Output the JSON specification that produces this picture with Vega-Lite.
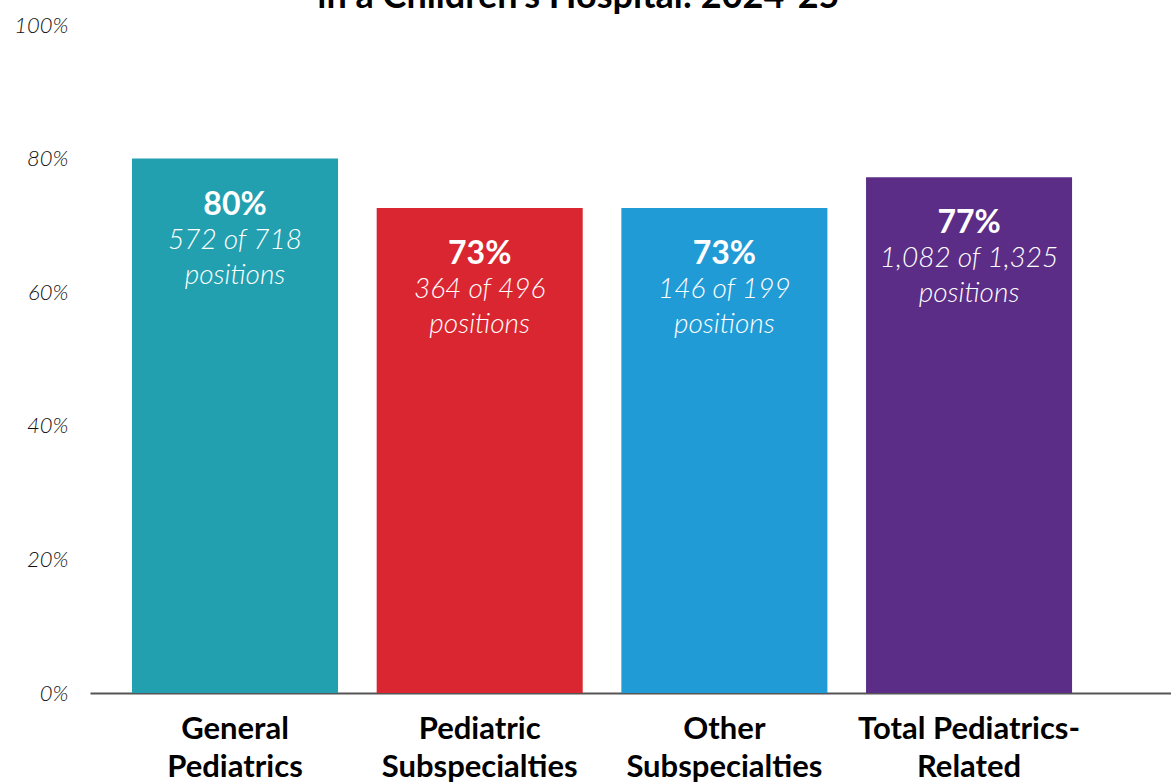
{
  "$schema": "https://vega.github.io/schema/vega-lite/v6.json",
  "autosize": {"type": "none"},
  "padding": {"left": 90, "top": 25, "right": 0, "bottom": 89},
  "width": 1081,
  "height": 668,
  "background": "white",
  "title": {
    "text": "in a Children's Hospital: 2024-25",
    "anchor": "middle",
    "frame": "bounds",
    "baseline": "bottom",
    "offset": -38,
    "dx": -14,
    "font": "Lato",
    "fontSize": 36,
    "fontWeight": "bold",
    "color": "#000000"
  },
  "config": {"view": {"stroke": null}, "font": "Lato"},
  "data": {
    "values": [
      {"category": "General|Pediatrics", "pct": 0.80, "pctLabel": "80%", "count": "572 of 718", "unit": "positions", "color": "#23A0B0"},
      {"category": "Pediatric|Subspecialties", "pct": 0.726, "pctLabel": "73%", "count": "364 of 496", "unit": "positions", "color": "#DA2630"},
      {"category": "Other|Subspecialties", "pct": 0.726, "pctLabel": "73%", "count": "146 of 199", "unit": "positions", "color": "#219BD6"},
      {"category": "Total Pediatrics-|Related", "pct": 0.772, "pctLabel": "77%", "count": "1,082 of 1,325", "unit": "positions", "color": "#5B2D86"}
    ]
  },
  "encoding": {
    "x": {
      "field": "category",
      "type": "nominal",
      "sort": null,
      "scale": {"paddingInner": 0.158, "paddingOuter": 0.288, "align": 0.298},
      "axis": {
        "title": null,
        "labelAngle": 0,
        "labelExpr": "split(datum.label, '|')",
        "labelFont": "Lato",
        "labelFontSize": 31,
        "labelFontWeight": "bold",
        "labelColor": "#000000",
        "labelLineHeight": 38,
        "labelPadding": 21,
        "labelLimit": 0,
        "labelOverlap": false,
        "ticks": false,
        "domainColor": "#555555",
        "domainWidth": 2,
        "labelBaseline": "top"
      }
    },
    "y": {
      "field": "pct",
      "type": "quantitative",
      "scale": {"domain": [0, 1], "nice": false},
      "axis": {
        "title": null,
        "values": [0, 0.2, 0.4, 0.6, 0.8, 1],
        "format": ".0%",
        "grid": false,
        "domain": false,
        "ticks": false,
        "labelPadding": 22,
        "labelFont": "Lato",
        "labelFontSize": 22,
        "labelFontStyle": "italic",
        "labelFontWeight": 300,
        "labelColor": "#111111"
      }
    }
  },
  "layer": [
    {
      "mark": {"type": "bar"},
      "encoding": {"color": {"field": "color", "type": "nominal", "scale": null}}
    },
    {
      "mark": {"type": "text", "dy": 46, "baseline": "middle", "font": "Lato", "fontSize": 32, "fontWeight": "bold", "color": "white"},
      "encoding": {"text": {"field": "pctLabel"}}
    },
    {
      "mark": {"type": "text", "dy": 82, "baseline": "middle", "font": "Lato", "fontSize": 28, "fontStyle": "italic", "fontWeight": 300, "color": "white"},
      "encoding": {"text": {"field": "count"}}
    },
    {
      "mark": {"type": "text", "dy": 117, "baseline": "middle", "font": "Lato", "fontSize": 28, "fontStyle": "italic", "fontWeight": 300, "color": "white"},
      "encoding": {"text": {"field": "unit"}}
    }
  ]
}
